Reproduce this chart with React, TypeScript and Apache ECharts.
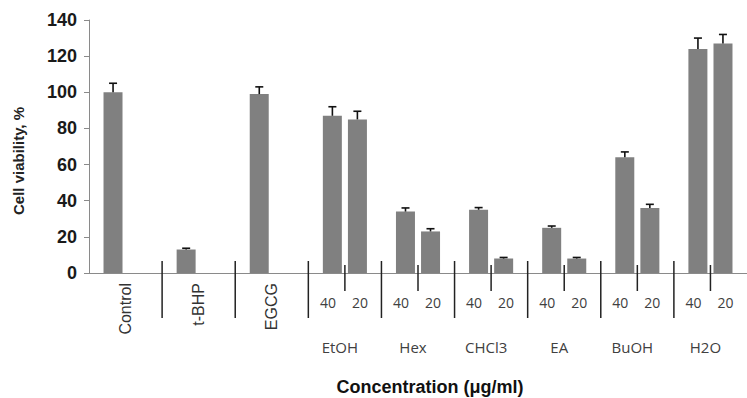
import React, { useEffect, useRef } from "react";
import * as echarts from "echarts";

const categories = ["Control", "t-BHP", "EGCG", "EtOH", "Hex", "CHCl3", "EA", "BuOH", "H2O"];
const conc40 = [100, 13, 99, 87, 34, 35, 25, 64, 124];
const err40 = [5, 0.7, 4, 5, 2, 1.2, 1, 3, 6];
const conc20: (number | null)[] = [null, null, null, 85, 23, 8, 8, 36, 127];
const err20: (number | null)[] = [null, null, null, 4.5, 1.5, 0.6, 0.6, 2, 5];
const doseLabels = ["40", "20"];
const yMin = 0;
const yMax = 140;
const yStep = 20;

const BAR_W = 19;
const BAR_OFF = 12.5;

export default function App() {
  const ref = useRef<HTMLDivElement>(null);
  useEffect(() => {
    if (!ref.current) return;
    const chart = echarts.init(ref.current, null, { renderer: "svg" });

    const errData = (vals: (number | null)[], errs: (number | null)[]) =>
      vals
        .map((v, i) => (v == null ? null : [i, v, errs[i] ?? 0]))
        .filter((d) => d != null);

    const errRender = (off: number) => (params: any, api: any) => {
      const i = api.value(0);
      const v = api.value(1);
      const e = api.value(2);
      const p0 = api.coord([i, v]);
      const p1 = api.coord([i, v + e]);
      const x = p0[0] + off;
      const st = { stroke: "#111", lineWidth: 1.6 };
      return {
        type: "group",
        children: [
          { type: "line", shape: { x1: x, y1: p0[1], x2: x, y2: p1[1] }, style: st },
          { type: "line", shape: { x1: x - 4, y1: p1[1], x2: x + 4, y2: p1[1] }, style: st },
        ],
      };
    };

    const txt = (text: string, x: number, y: number, font: string, fill: string) => ({
      type: "text",
      x,
      y,
      style: {
        text,
        font,
        fill,
        align: "center",
        verticalAlign: "middle",
        textAlign: "center",
        textVerticalAlign: "middle",
      },
    });

    const sepRender = (params: any, api: any) => {
      const i = api.value(0);
      const [cx, y0] = api.coord([i, 0]);
      const bw = api.size([1, 0])[0];
      const st = { stroke: "#222", lineWidth: 1.5 };
      const children: any[] = [];
      if (i >= 1) {
        const x = cx - bw / 2;
        children.push({ type: "line", shape: { x1: x, y1: y0 - 12, x2: x, y2: y0 + 45 }, style: st });
      }
      if (conc20[i] != null) {
        children.push({ type: "line", shape: { x1: cx, y1: y0 - 8, x2: cx, y2: y0 + 18 }, style: st });
        const f = "14px 'Open Sans', sans-serif";
        children.push(txt(doseLabels[0], cx - 17, y0 + 29, f, "#404040"));
        children.push(txt(doseLabels[1], cx + 15, y0 + 29, f, "#404040"));
        children.push(txt(categories[i], cx - 5, y0 + 74, "15px 'Open Sans', sans-serif", "#404040"));
      }
      return { type: "group", children };
    };

    chart.setOption({
      animation: false,
      grid: { left: 89, right: -6, top: 20, bottom: 125 },
      xAxis: {
        type: "category",
        data: categories,
        axisLine: { show: true, lineStyle: { color: "#8a8a8a", width: 1 } },
        axisTick: { show: false },
        axisLabel: {
          rotate: 90,
          margin: 10,
          interval: 0,
          color: "#333",
          fontFamily: "'Liberation Sans', Arial, sans-serif",
          fontSize: 16,
          formatter: (v: string, idx: number) => (conc20[idx] == null ? v : ""),
        },
      },
      yAxis: {
        type: "value",
        min: yMin,
        max: yMax,
        interval: yStep,
        axisLine: { show: true, lineStyle: { color: "#8a8a8a", width: 1 } },
        axisTick: { show: true, length: 5, lineStyle: { color: "#8a8a8a" } },
        splitLine: { show: false },
        axisLabel: {
          margin: 12,
          color: "#1a1a1a",
          fontWeight: "bold",
          fontSize: 18,
          fontFamily: "'Liberation Sans', Arial, sans-serif",
        },
      },
      graphic: [
        {
          type: "text",
          x: 18,
          y: 161,
          rotation: Math.PI / 2,
          style: {
            text: "Cell viability, %",
            font: "bold 15px 'Liberation Sans', Arial, sans-serif",
            fill: "#222",
            align: "center",
            verticalAlign: "middle",
            textAlign: "center",
            textVerticalAlign: "middle",
          },
        },
        {
          type: "text",
          x: 430,
          y: 387,
          style: {
            text: "Concentration (μg/ml)",
            font: "bold 18px 'Liberation Sans', Arial, sans-serif",
            fill: "#111",
            align: "center",
            verticalAlign: "middle",
            textAlign: "center",
            textVerticalAlign: "middle",
          },
        },
      ],
      series: [
        {
          type: "bar",
          name: "40",
          data: conc40,
          barWidth: BAR_W,
          barGap: "32%",
          itemStyle: { color: "#808080" },
        },
        {
          type: "bar",
          name: "20",
          data: conc20,
          barWidth: BAR_W,
          barGap: "32%",
          itemStyle: { color: "#808080" },
        },
        {
          type: "custom",
          data: errData(conc40, err40),
          renderItem: errRender(-BAR_OFF),
          clip: false,
          silent: true,
          z: 5,
        },
        {
          type: "custom",
          data: errData(conc20, err20),
          renderItem: errRender(BAR_OFF),
          clip: false,
          silent: true,
          z: 5,
        },
        {
          type: "custom",
          data: categories.map((_, i) => [i, 0]),
          renderItem: sepRender,
          clip: false,
          silent: true,
          z: 5,
        },
      ],
    });
    return () => chart.dispose();
  }, []);
  return (
    <div
      ref={ref}
      style={{ position: "absolute", left: 0, top: 0, width: 747, height: 398, background: "#fff" }}
    />
  );
}
